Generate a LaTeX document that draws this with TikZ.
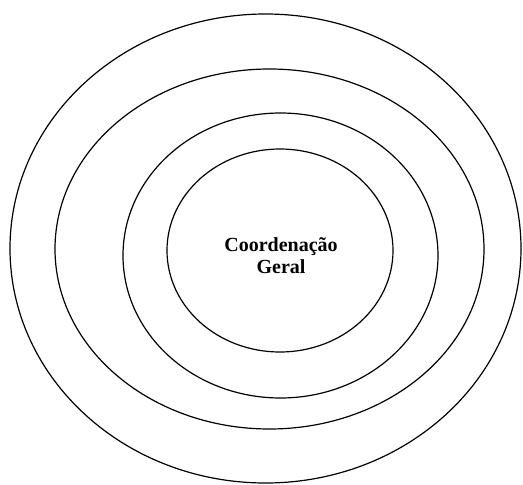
\documentclass[tikz,border=0pt]{standalone}
\usepackage{fontspec}
\setmainfont{Liberation Serif}
\begin{document}
\begin{tikzpicture}[x=1pt,y=-1pt,
  ring/.style={draw=black,line width=1.2pt},
  label/.style={align=center,font=\bfseries\fontsize{20}{22}\selectfont,inner sep=0pt}]
\useasboundingbox (0,0) rectangle (523,485);
\draw[ring] (265.5,248.5) ellipse [x radius=255.5, y radius=234.5];
\draw[ring] (269.5,249) ellipse [x radius=214.5, y radius=180];
\draw[ring] (280.5,255.5) ellipse [x radius=157.5, y radius=142.5];
\draw[ring] (280,250.5) ellipse [x radius=113, y radius=101.5];
\node[label] (cg) at (281,256) {Coordenação\\Geral};
\end{tikzpicture}
\end{document}
